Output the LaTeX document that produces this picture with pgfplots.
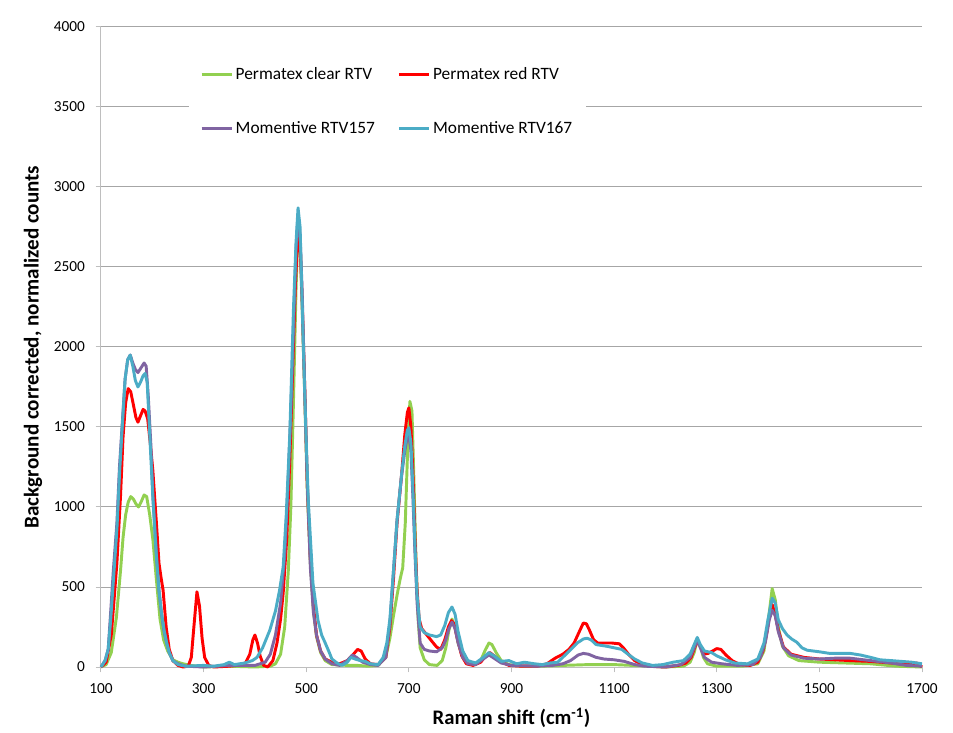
\documentclass[border=0pt]{standalone}
\usepackage{pgfplots}
\pgfplotsset{compat=1.18}
\usepackage{fontspec}
\setmainfont{Carlito}
\definecolor{cgreen}{RGB}{146,208,80}
\definecolor{cred}{RGB}{255,0,0}
\definecolor{cpurple}{RGB}{128,100,162}
\definecolor{cblue}{RGB}{75,172,198}
\definecolor{gridc}{RGB}{166,166,166}
\definecolor{axc}{RGB}{190,190,190}
\begin{document}
\begin{tikzpicture}
\begin{axis}[
 name=ax,
 scale only axis,
 width=615.75pt, height=480pt,
 xmin=100, xmax=1700, ymin=0, ymax=4000,
 xtick={100,300,...,1700},
 ytick={0,500,...,4000},
 axis lines*=left,
 axis line style={draw=axc, line width=0.75pt},
 ymajorgrids, grid style={draw=gridc, line width=0.75pt},
 tick align=outside,
 major tick length=4pt,
 tick style={draw=axc, line width=0.75pt},
 clip=false,
 /pgf/number format/assume math mode=true,
 /pgf/number format/1000 sep={},
 ticklabel style={font=\fontsize{11.5}{13}\selectfont},
 yticklabel style={xshift=-4.5pt},
 xticklabel style={yshift=-5pt},
 xlabel={Raman shift (cm\textsuperscript{-1})},
 ylabel={Background corrected, normalized counts},
 xlabel style={at={(axis description cs:0.5,-0.0797)}, anchor=center, font=\bfseries\fontsize{15.5}{18}\selectfont},
 ylabel style={at={(axis description cs:-0.0828,0.5)}, anchor=center, font=\bfseries\fontsize{15.8}{18}\selectfont},
 legend columns=2,
 legend cell align=left,
 legend image code/.code={\draw[#1] (0pt,0pt) -- (22.5pt,0pt);},
 legend style={at={(axis description cs:0.349,0.8836)}, anchor=center, draw=none, fill=white,
   font=\fontsize{13}{15}\selectfont, inner xsep=8pt, inner ysep=10pt,
   /tikz/every even column/.append style={column sep=15pt}, row sep=26.5pt},
 every axis plot/.append style={line width=2.2pt, line join=round},
]
\addplot[cgreen] coordinates {
(100,0)(110,15)(120,90)(130,310)(138,600)(143,810)(148,950)(153,1030)(158,1065)(163,1050)(168,1020)(173,1000)(178,1030)(184,1075)(189,1065)(195,950)(201,800)(208,545)(215,300)(222,170)(230,100)(240,45)(250,30)(260,20)(275,10)(300,0)(350,5)(400,0)(430,5)(440,20)(450,80)(458,250)(465,600)(470,1000)(475,1650)(480,2350)(484,2760)(488,2650)(492,2250)(497,1700)(502,1100)(508,650)(514,350)(520,190)(528,90)(537,40)(550,15)(580,10)(600,10)(620,5)(640,10)(655,60)(663,180)(670,320)(677,450)(683,550)(688,620)(693,900)(698,1400)(702,1660)(706,1600)(710,1150)(714,650)(718,300)(722,120)(730,45)(740,15)(755,10)(765,40)(772,120)(778,230)(784,300)(790,250)(796,150)(805,60)(815,20)(830,15)(840,40)(848,100)(856,150)(862,140)(870,90)(880,40)(895,15)(920,5)(960,5)(1000,10)(1050,15)(1100,15)(1150,8)(1200,0)(1235,5)(1248,30)(1256,90)(1262,170)(1268,130)(1274,60)(1282,20)(1300,5)(1350,5)(1380,20)(1392,100)(1400,280)(1408,490)(1414,420)(1420,250)(1428,130)(1440,70)(1460,40)(1500,30)(1550,25)(1600,20)(1650,5)(1700,0)
};
\addlegendentry{Permatex clear RTV}
\addplot[cred] coordinates {
(100,0)(110,30)(120,200)(125,400)(131,650)(138,1065)(143,1440)(148,1650)(153,1740)(158,1720)(163,1640)(168,1560)(172,1530)(177,1570)(182,1610)(186,1600)(191,1550)(196,1400)(201,1230)(208,900)(213,650)(217,560)(221,480)(227,250)(233,110)(240,40)(250,10)(260,0)(270,5)(276,60)(281,250)(287,470)(292,380)(297,180)(302,60)(310,10)(320,0)(350,5)(380,15)(390,80)(396,170)(400,200)(405,150)(410,70)(417,10)(425,0)(435,40)(443,150)(450,300)(455,460)(462,800)(468,1300)(474,1900)(479,2400)(484,2720)(488,2650)(492,2300)(497,1750)(502,1150)(508,680)(514,380)(520,200)(528,100)(537,50)(550,30)(565,20)(580,40)(592,80)(600,110)(607,100)(615,50)(625,20)(640,15)(655,60)(663,250)(670,550)(677,900)(686,1210)(692,1450)(697,1590)(700,1620)(704,1500)(708,1200)(712,800)(716,480)(720,300)(725,240)(735,200)(745,160)(754,125)(762,110)(770,170)(777,250)(783,290)(788,270)(795,170)(803,70)(812,20)(825,10)(840,30)(850,70)(858,90)(866,70)(878,35)(895,10)(920,5)(950,5)(969,20)(985,55)(1000,80)(1012,110)(1022,150)(1032,220)(1040,275)(1046,270)(1052,230)(1060,170)(1068,150)(1080,150)(1095,150)(1110,145)(1118,120)(1128,80)(1140,40)(1155,15)(1170,5)(1200,0)(1225,10)(1240,25)(1250,60)(1258,130)(1263,160)(1268,130)(1275,80)(1283,85)(1292,100)(1300,115)(1308,110)(1318,75)(1330,40)(1345,15)(1365,10)(1380,30)(1390,100)(1398,220)(1404,350)(1408,390)(1413,340)(1420,230)(1430,125)(1445,80)(1470,60)(1500,50)(1530,45)(1560,40)(1600,35)(1640,25)(1670,15)(1690,25)(1700,0)
};
\addlegendentry{Permatex red RTV}
\addplot[cpurple] coordinates {
(100,0)(108,40)(114,110)(118,300)(124,600)(131,900)(136,1250)(141,1500)(147,1800)(152,1920)(157,1950)(162,1900)(167,1860)(172,1840)(178,1870)(184,1900)(188,1880)(192,1700)(197,1400)(201,1080)(208,700)(213,480)(218,330)(223,220)(228,150)(233,90)(240,40)(250,20)(265,5)(300,0)(350,10)(400,10)(420,30)(430,80)(440,200)(450,400)(458,700)(464,1100)(470,1600)(475,2100)(480,2600)(484,2830)(488,2700)(492,2350)(497,1750)(502,1150)(508,620)(514,340)(520,200)(528,100)(537,50)(550,20)(565,10)(580,40)(590,75)(598,60)(610,30)(625,15)(640,10)(655,60)(663,270)(670,600)(677,920)(686,1200)(692,1350)(697,1440)(700,1450)(704,1350)(708,1050)(712,700)(716,400)(722,150)(730,110)(740,100)(754,95)(765,120)(772,170)(778,240)(784,280)(790,240)(796,150)(805,60)(815,20)(830,15)(845,50)(856,75)(866,55)(880,25)(900,10)(950,5)(980,10)(1000,20)(1015,40)(1030,75)(1040,85)(1050,80)(1065,60)(1080,50)(1100,45)(1120,35)(1140,15)(1160,5)(1200,0)(1230,15)(1248,60)(1256,120)(1262,170)(1268,120)(1276,60)(1290,30)(1310,20)(1340,10)(1370,15)(1385,60)(1395,160)(1402,290)(1408,355)(1414,320)(1420,220)(1430,120)(1445,75)(1470,55)(1500,50)(1530,55)(1560,55)(1600,40)(1640,25)(1670,10)(1700,5)
};
\addlegendentry{Momentive RTV157}
\addplot[cblue] coordinates {
(100,0)(108,40)(114,110)(119,300)(125,580)(131,860)(136,1200)(141,1480)(147,1800)(152,1920)(157,1950)(162,1880)(167,1790)(172,1750)(177,1780)(182,1820)(186,1835)(190,1780)(195,1450)(201,1060)(208,690)(213,480)(218,335)(223,230)(228,150)(233,90)(240,40)(250,15)(265,5)(300,10)(320,5)(340,15)(350,30)(360,15)(380,25)(395,40)(404,60)(415,120)(429,230)(440,350)(448,480)(455,625)(461,950)(468,1460)(475,2230)(480,2650)(484,2870)(488,2750)(494,2040)(499,1500)(504,1040)(513,525)(523,290)(530,200)(537,150)(545,90)(550,50)(560,25)(570,10)(580,30)(587,60)(595,50)(605,40)(615,35)(625,20)(640,15)(650,60)(657,150)(663,300)(670,600)(677,920)(686,1210)(692,1380)(697,1480)(700,1495)(704,1400)(708,1100)(712,750)(716,450)(722,250)(730,215)(740,200)(754,190)(762,200)(770,260)(777,340)(784,375)(790,330)(796,220)(805,100)(815,40)(830,25)(845,60)(856,90)(866,70)(880,35)(895,40)(910,20)(925,30)(945,20)(960,15)(975,25)(990,30)(1008,85)(1028,150)(1040,175)(1047,180)(1055,170)(1065,140)(1075,135)(1085,130)(1100,120)(1115,110)(1125,85)(1140,50)(1155,25)(1175,10)(1195,15)(1215,30)(1235,40)(1248,80)(1256,140)(1262,185)(1268,140)(1276,100)(1290,90)(1300,70)(1317,45)(1335,25)(1360,20)(1380,50)(1392,150)(1400,300)(1408,430)(1414,400)(1420,295)(1428,240)(1437,200)(1446,175)(1456,155)(1466,120)(1476,105)(1500,95)(1520,85)(1540,85)(1560,85)(1580,75)(1600,60)(1618,45)(1640,40)(1660,35)(1680,30)(1700,20)
};
\addlegendentry{Momentive RTV167}
\end{axis}
\pgfresetboundingbox
\path ([xshift=-75.75pt,yshift=-48.75pt]ax.south west) rectangle ([xshift=23.25pt,yshift=20.25pt]ax.north east);
\end{tikzpicture}
\end{document}
